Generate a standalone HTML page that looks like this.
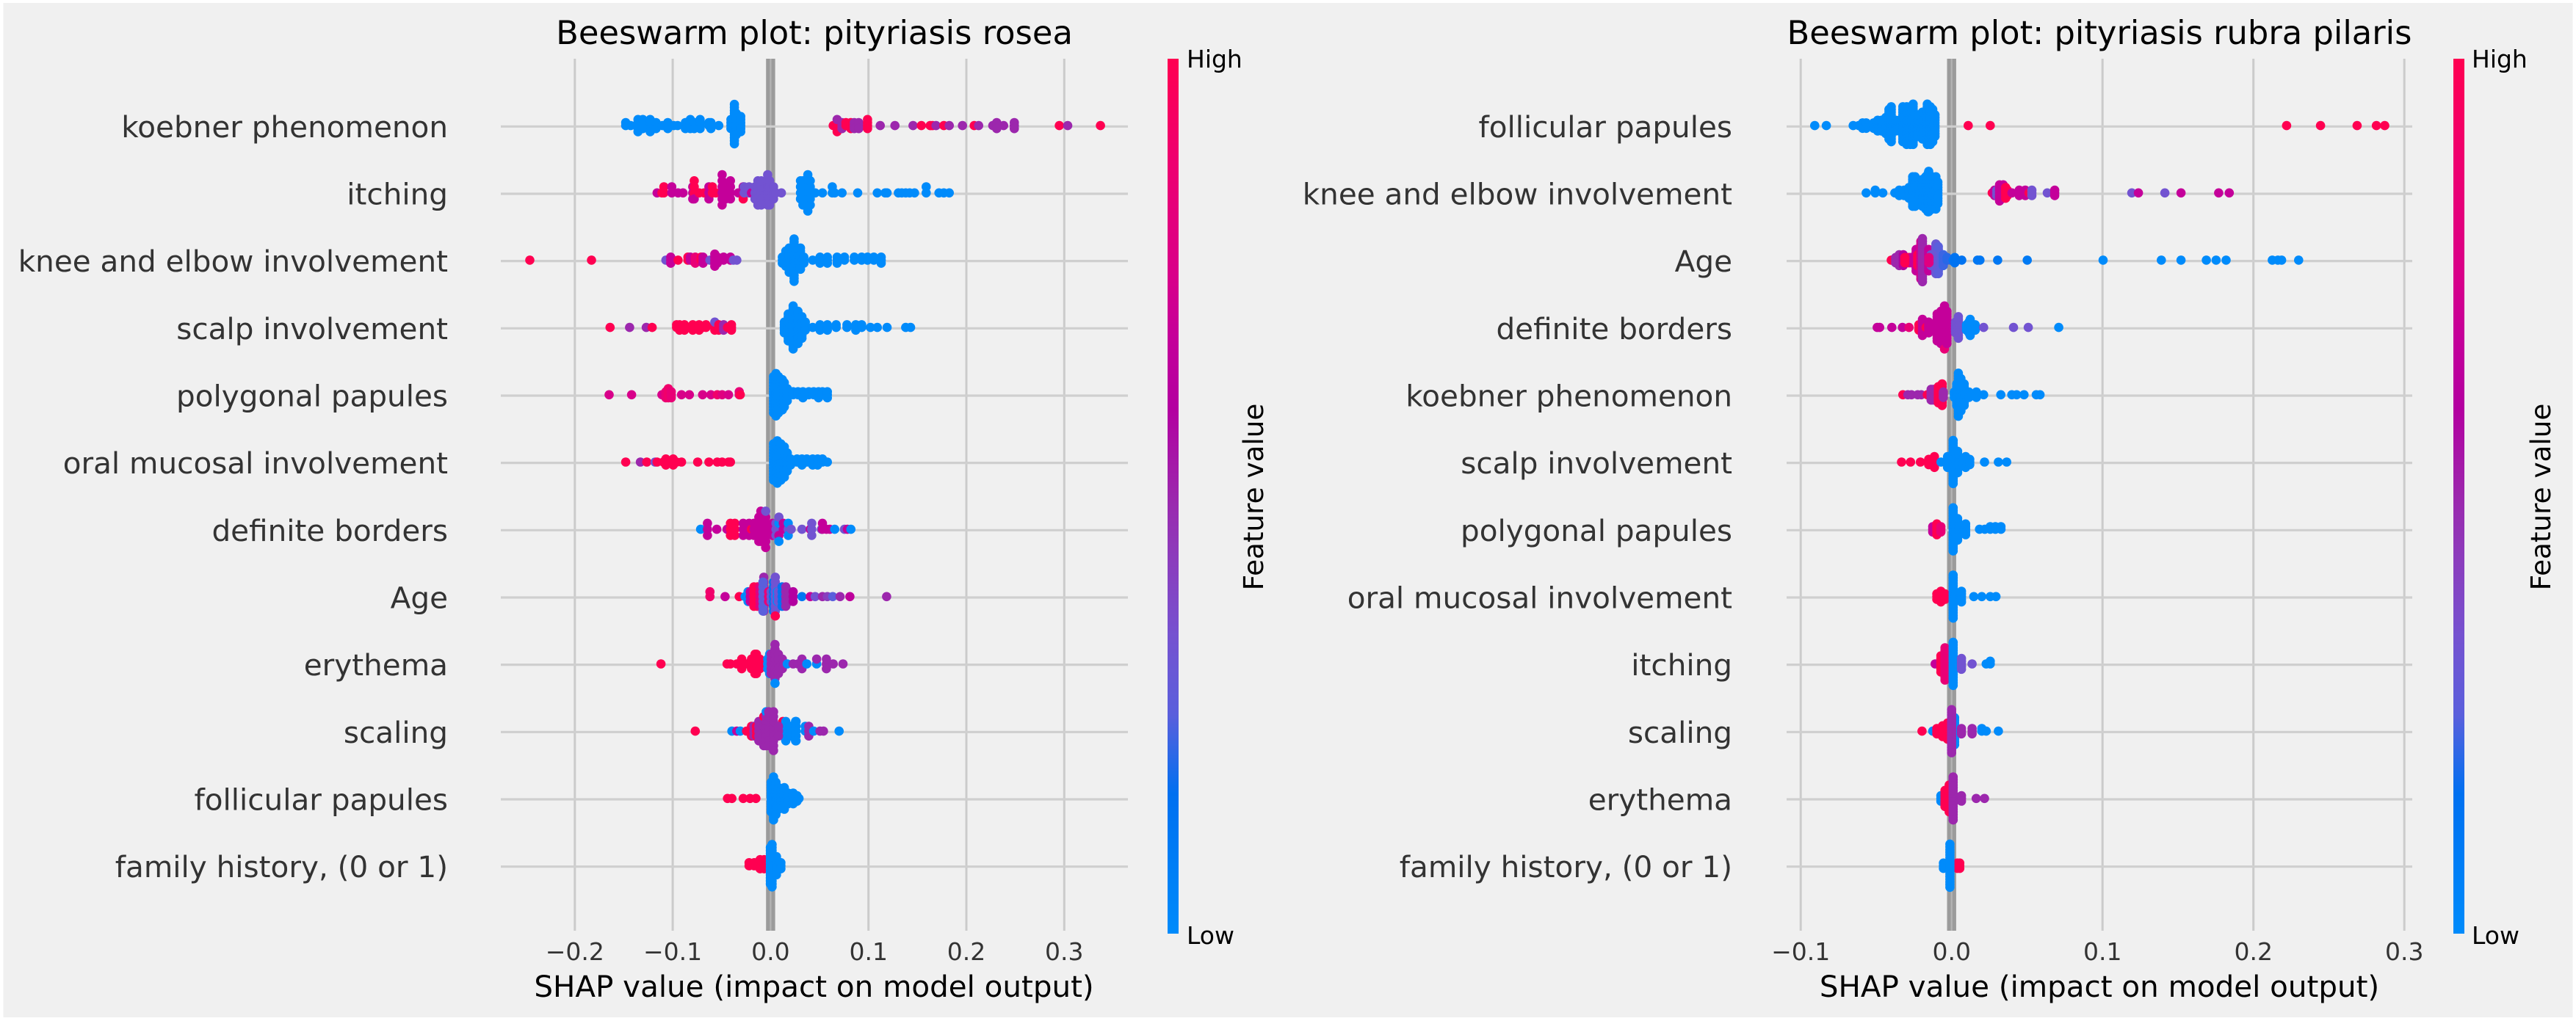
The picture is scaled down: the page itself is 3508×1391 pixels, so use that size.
<!DOCTYPE html>
<html lang="en">
<head>
<meta charset="utf-8">
<title>Beeswarm plots</title>
<style>
html,body{margin:0;padding:0;background:#fff;width:3508px;height:1391px;overflow:hidden}
svg{display:block}
text{font-family:"DejaVu Sans","Liberation Sans",sans-serif}
</style>
</head>
<body>
<svg id="chart" xmlns="http://www.w3.org/2000/svg" width="3508" height="1391" viewBox="0 0 3508 1391">
  <defs>
    <linearGradient id="cbar" x1="0" y1="1" x2="0" y2="0">
      <stop offset="0" stop-color="#008bfb"/>
      <stop offset="0.16" stop-color="#0070f0"/>
      <stop offset="0.25" stop-color="#5a5fdc"/>
      <stop offset="0.34" stop-color="#7552d0"/>
      <stop offset="0.43" stop-color="#8c3cbc"/>
      <stop offset="0.5" stop-color="#9c27ad"/>
      <stop offset="0.6" stop-color="#b300a0"/>
      <stop offset="0.68" stop-color="#c4009a"/>
      <stop offset="0.75" stop-color="#d8008a"/>
      <stop offset="0.88" stop-color="#ee0070"/>
      <stop offset="1" stop-color="#ff0051"/>
    </linearGradient>
  </defs>
  <rect x="4.5" y="4" width="3499" height="1382" fill="#f0f0f0"/>
  <g id="panel-left"></g>
  <g id="panel-right"></g>

  <text x="1109" y="60" font-size="44.8" text-anchor="middle" fill="#000">Beeswarm plot: pityriasis rosea</text>
  <text x="2859" y="60" font-size="44.8" text-anchor="middle" fill="#000">Beeswarm plot: pityriasis rubra pilaris</text>
  <text x="1108.5" y="1358" font-size="40.4" text-anchor="middle" fill="#000">SHAP value (impact on model output)</text>
  <text x="2859" y="1358" font-size="40.4" text-anchor="middle" fill="#000">SHAP value (impact on model output)</text>

  <rect x="1590" y="80" width="15" height="1192" fill="url(#cbar)"/>
  <text x="1616" y="92" font-size="33" fill="#000">High</text>
  <text x="1616" y="1286" font-size="33" fill="#000">Low</text>
  <text transform="translate(1720 677) rotate(-90)" font-size="37.3" text-anchor="middle" fill="#000">Feature value</text>

  <rect x="3341" y="80" width="15" height="1192" fill="url(#cbar)"/>
  <text x="3366" y="92" font-size="33" fill="#000">High</text>
  <text x="3366" y="1286" font-size="33" fill="#000">Low</text>
  <text transform="translate(3473 677) rotate(-90)" font-size="37.3" text-anchor="middle" fill="#000">Feature value</text>
</svg>
<script>
/* ---------- categories and ticks ---------- */
const roseaCategories = ["koebner phenomenon","itching","knee and elbow involvement","scalp involvement","polygonal papules","oral mucosal involvement","definite borders","Age","erythema","scaling","follicular papules","family history, (0 or 1)"];
const rubraCategories = ["follicular papules","knee and elbow involvement","Age","definite borders","koebner phenomenon","scalp involvement","polygonal papules","oral mucosal involvement","itching","scaling","erythema","family history, (0 or 1)"];
const roseaTicks = [-0.2,-0.1,0,0.1,0.2,0.3];
const roseaTickLabels = ["\u22120.2","\u22120.1","0.0","0.1","0.2","0.3"];
const rubraTicks = [-0.1,0,0.1,0.2,0.3];
const rubraTickLabels = ["\u22120.1","0.0","0.1","0.2","0.3"];

/* ---------- rosea: SHAP value, points at that value, feature-value tone ---------- */
const roseaKoebnerShap = [-.148,-.143,-.1355,-.1305,-.123,-.117,-.1105,-.105,-.099,-.095,-.087,-.082,-.078,-.072,-.063,-.061,-.053,-.0405,-.037,-.035,-.0305,.064,.068,.068,.068,.073,.077,.082,.0855,.09,.099,.112,.127,.1455,.154,.163,.1655,.169,.177,.1825,.196,.208,.2125,.227,.231,.238,.249,.295,.3035,.337];
const roseaKoebnerCount = [2,1,5,4,5,3,1,3,1,1,3,4,3,4,2,3,1,4,14,8,6,1,3,1,1,3,2,3,3,3,4,1,1,1,1,1,1,1,1,1,1,1,1,1,3,1,3,1,1,1];
const roseaKoebnerTone = [0,0,0,0,0,0,0,0,0,0,0,0,0,0,0,0,0,0,0,0,0,1,1,.5,1,.5,1,1,.5,.5,1,.5,.5,.5,1,1,1,.5,1,.5,.5,1,.5,.5,.5,.5,.5,1,.5,1];

const roseaItchingShap = [-.116,-.111,-.109,-.101,-.0945,-.0895,-.0795,-.078,-.078,-.078,-.073,-.068,-.063,-.0595,-.056,-.046,-.0495,-.041,-.033,-.028,-.028,-.027,-.022,-.0195,-.016,-.013,-.0095,-.003,-.001,.003,.0055,.011,.0305,.033,.038,.0405,.0455,.053,.063,.0655,.073,.089,.109,.117,.119,.1305,.134,.138,.142,.147,.159,.172,.177,.1825];
const roseaItchingCount = [1,1,2,2,1,1,3,2,1,1,1,1,3,2,1,3,6,4,1,2,1,2,2,1,3,5,5,6,5,3,1,1,4,5,7,5,1,1,2,1,1,1,1,1,1,1,1,1,1,1,2,1,1,1];
const roseaItchingTone = [.68,1,1,.68,.68,.68,.68,1,.68,1,1,1,.68,1,1,.68,.68,.68,.68,.68,1,.33,.33,.68,.33,.33,.33,.33,.33,.33,.33,.33,0,0,0,0,0,0,0,0,0,0,0,0,0,0,0,0,0,0,0,0,0,0];

const roseaKneeShap = [-.246,-.183,-.107,-.1025,-.102,-.0945,-.0845,-.082,-.077,-.071,-.069,-.062,-.057,-.0545,-.048,-.041,-.038,-.0345,.012,.0155,.019,.024,.0305,.034,.043,.0505,.058,.068,.0755,.0855,.093,.099,.1055,.113];
const roseaKneeCount = [1,1,1,1,3,1,2,2,3,2,3,1,5,3,2,2,1,1,3,6,9,15,8,3,1,3,3,3,2,2,2,2,2,3];
const roseaKneeTone = [1,1,.33,.33,.68,1,1,.68,.85,1,.68,.33,.68,.68,.68,.68,.33,.33,0,0,0,0,0,0,0,0,0,0,0,0,0,0,0,0];

const roseaScalpShap = [-.164,-.144,-.127,-.121,-.096,-.093,-.088,-.0795,-.073,-.0695,-.066,-.057,-.057,-.053,-.048,-.044,-.04,.014,.018,.023,.028,.032,.0355,.043,.0505,.058,.067,.078,.087,.093,.102,.109,.119,.138,.143];
const roseaScalpCount = [1,1,1,1,2,3,3,3,3,1,2,3,1,3,3,1,3,5,11,17,13,9,4,1,3,3,2,2,3,2,1,1,1,1,1];
const roseaScalpTone = [1,.5,.5,1,1,1,1,1,1,1,1,1,.33,1,.5,1,1,0,0,0,0,0,0,0,0,0,0,0,0,0,0,0,0,0,0];

const roseaPolygonalShap = [-.165,-.142,-.111,-.107,-.1045,-.1015,-.091,-.083,-.0695,-.061,-.0545,-.0495,-.043,-.032,-.031,.003,.0055,.008,.012,.014,.017,.023,.028,.033,.039,.044,.049,.053,.058];
const roseaPolygonalCount = [1,1,1,3,4,3,1,1,1,1,1,1,1,2,1,13,15,13,11,9,5,2,2,3,2,2,3,2,3];
const roseaPolygonalTone = [.75,.75,.75,.85,.9,.85,.75,.75,.75,.75,.9,.8,.75,.85,1,0,0,0,0,0,0,0,0,0,0,0,0,0,0];

const roseaOralShap = [-.148,-.133,-.1265,-.118,-.116,-.1095,-.107,-.0995,-.096,-.091,-.0745,-.063,-.0545,-.0495,-.043,-.041,.003,.0068,.0105,.014,.017,.0205,.027,.032,.037,.043,.048,.053,.058];
const roseaOralCount = [1,1,1,1,1,1,3,3,1,1,1,1,1,1,1,1,13,15,13,11,7,3,2,3,2,3,3,2,1];
const roseaOralTone = [1,.5,1,.33,1,1,1,1,1,1,1,1,1,1,1,1,0,0,0,0,0,0,0,0,0,0,0,0,0];

const roseaBordersShap = [-.0715,-.0645,-.055,-.0445,-.041,-.0365,-.028,-.022,-.0195,-.017,-.012,-.01,-.005,-.005,-.005,.002,.0055,.0085,.0085,.0085,.0085,.0085,.013,.018,.018,.021,.032,.0405,.042,.052,.053,.057,.0605,.0655,.0755,.0785,.082];
const roseaBordersCount = [1,3,1,1,3,3,3,3,1,3,5,6,5,1,1,3,3,1,1,1,1,1,2,1,2,1,1,1,3,1,2,1,1,1,1,1,1];
const roseaBordersTone = [0,.68,.68,.68,1,1,.68,.68,1,.68,.68,.68,.68,.33,.68,.68,.33,.33,0,.68,.33,0,.68,.33,0,.33,.33,.68,.33,.33,.68,.68,.68,0,.33,.68,0];

const roseaAgeShap = [-.062,-.0465,-.032,-.026,-.023,-.0208,-.017,-.0133,-.0108,-.007,-.0078,-.002,.0005,.003,.0048,.0048,.0068,.008,.0118,.0155,.019,.023,.032,.0405,.0455,.053,.058,.0635,.071,.081,.1185];
const roseaAgeCount = [2,1,1,1,3,3,5,5,5,8,7,3,3,7,8,1,3,3,5,5,3,3,1,1,1,1,1,1,1,1,1];
const roseaAgeTone = [.9,.68,1,0,0,.68,1,1,.8,.5,.25,.85,.3,.15,.33,1,0,.33,.15,.5,.5,.6,.12,.68,.33,.5,.42,.25,.5,.65,.5];

const roseaErythemaShap = [-.112,-.0445,-.041,-.0345,-.0295,-.0245,-.0195,-.016,-.0145,-.011,-.003,-.001,.0005,.0045,.0045,.008,.012,.014,.017,.023,.028,.032,.0355,.037,.047,.047,.057,.064,.074];
const roseaErythemaCount = [1,1,1,1,3,1,3,5,5,3,3,5,5,8,1,5,3,1,1,1,1,3,1,1,1,1,3,1,1];
const roseaErythemaTone = [1,1,1,1,1,1,1,1,1,1,0,0,.5,.5,0,.5,.5,.5,0,.5,.5,.5,.5,0,0,.5,.5,.5,.5];

const roseaScalingShap = [-.077,-.0395,-.0345,-.031,-.0245,-.0195,-.017,-.0145,-.012,-.007,-.007,-.007,-.0045,-.0045,-.002,.003,.0125,.0125,.0155,.0205,.008,.0255,.026,.0355,.039,.044,.0505,.054,.07];
const roseaScalingCount = [1,1,1,1,1,3,3,3,5,5,1,1,7,1,8,9,3,1,5,3,3,5,5,2,3,1,1,1,1];
const roseaScalingTone = [1,0,.68,0,1,1,.5,1,.5,.5,1,.5,.5,0,.5,.5,.5,1,0,0,.5,0,0,0,.5,0,.5,.5,0];

const roseaFollicularShap = [-.044,-.0395,-.028,-.021,-.015,.0005,.003,.0055,.008,.0105,.014,.018,.023,.027,.029];
const roseaFollicularCount = [1,1,1,1,1,12,17,13,9,7,9,5,5,3,1];
const roseaFollicularTone = [1,1,1,1,1,0,0,0,0,0,0,0,0,0,0];

const roseaFamilyShap = [-.022,-.0167,-.0107,-.0065,-.0002,.0015,.006,.0105];
const roseaFamilyCount = [2,2,4,4,13,15,7,3];
const roseaFamilyTone = [1,1,1,1,0,0,0,0];

/* ---------- rubra pilaris ---------- */
const rubraFollicularShap = [-.0907,-.083,-.0652,-.0615,-.059,-.0566,-.0517,-.049,-.0464,-.0436,-.0415,-.04,-.0371,-.0347,-.0323,-.0298,-.0274,-.0255,-.0225,-.0193,-.0161,-.0141,-.0125,-.011,.011,.0256,.222,.2445,.2687,.2815,.287];
const rubraFollicularCount = [1,1,1,1,3,3,3,5,5,7,12,14,5,5,14,15,15,16,9,11,16,15,13,9,1,1,1,1,1,1,1];
const rubraFollicularTone = [0,0,0,0,0,0,0,0,0,0,0,0,0,0,0,0,0,0,0,0,0,0,0,0,1,1,1,1,1,1,1];

const rubraKneeShap = [-.0566,-.0506,-.0456,-.0376,-.0347,-.0315,-.0282,-.0258,-.0242,-.0217,-.0193,-.0172,-.0157,-.0152,-.0128,-.0104,-.0091,.0269,.0285,.03,.0318,.0342,.0358,.037,.04,.0448,.0488,.0513,.0532,.0634,.0675,.0683,.1194,.1238,.1413,.152,.177,.184];
const rubraKneeCount = [1,2,1,1,3,3,5,12,12,7,11,13,15,16,13,13,9,1,3,3,7,6,5,3,1,3,3,1,3,1,1,3,1,1,1,1,1,1];
const rubraKneeTone = [0,0,0,0,0,0,0,0,0,0,0,0,0,0,0,0,0,1,.68,.33,.68,.68,1,1,.68,.68,.68,1,.33,.33,.33,.68,.33,.68,.33,.68,.68,.68];

const rubraAgeShap = [-.04,-.0371,-.0347,-.032,-.0282,-.0266,-.0235,-.0225,-.0204,-.0193,-.0177,-.0152,-.0136,-.0104,-.0088,-.0128,-.031,-.015,-.0055,-.003,-.0006,.001,.0021,.0067,.0172,.0188,.0305,.0501,.1004,.139,.152,.1688,.1753,.1819,.2125,.2162,.2187,.23];
const rubraAgeCount = [1,3,5,5,3,3,9,5,15,17,5,9,5,12,11,5,3,3,5,2,1,1,3,1,1,1,1,1,1,1,1,1,1,1,1,1,1,1];
const rubraAgeTone = [1,.5,.5,.6,1,.68,.68,1,.72,.5,.5,.68,.3,.3,.25,.3,1,.8,.22,.2,.2,.12,.14,.14,.12,.12,.12,.1,0,0,0,0,0,0,0,0,0,0];

const rubraBordersShap = [-.0493,-.0477,-.0396,-.0326,-.0282,-.0217,-.0193,-.0169,-.0152,-.0136,-.0096,-.0071,-.0047,-.0047,-.0031,.0026,.0045,.0099,.0115,.0123,.0156,.0212,.041,.0508,.071];
const rubraBordersCount = [1,1,1,1,1,3,7,1,5,3,11,13,16,1,13,5,9,3,5,7,3,1,1,1,1];
const rubraBordersTone = [.68,.68,.68,.68,.85,1,.68,1,.68,.68,.68,.68,.68,.85,.68,.33,.33,0,0,0,0,.33,.33,.33,0];

const rubraKoebnerShap = [-.0323,-.029,-.0266,-.0225,-.0201,-.0161,-.0136,-.012,-.0088,-.0071,-.0063,-.0055,.0018,.0034,.0045,.0062,.0083,.0115,.0164,.0212,.0326,.0399,.0431,.048,.0561,.0586];
const rubraKoebnerCount = [1,1,1,1,1,1,5,5,7,5,9,3,3,9,17,13,9,3,3,1,1,1,1,1,1,1];
const rubraKoebnerTone = [1,.5,.5,.5,.5,1,.5,.5,1,1,1,.5,0,0,0,0,0,0,0,0,0,0,0,0,0,0];

const rubraScalpShap = [-.0332,-.0272,-.0207,-.0152,-.0114,-.007,-.0027,.0025,.001,.004,.0093,.012,.0218,.031,.0365];
const rubraScalpCount = [1,1,1,3,5,1,5,9,17,9,5,3,1,1,1];
const rubraScalpTone = [1,1,1,1,1,0,0,.68,0,0,0,0,0,0,0];

const rubraPolygonalShap = [-.0125,-.0098,-.0071,.001,.004,.0093,.0185,.022,.0256,.029,.0327];
const rubraPolygonalCount = [3,5,3,17,9,5,1,1,2,2,2];
const rubraPolygonalTone = [.68,1,.85,0,0,0,0,0,0,0,0];

const rubraOralShap = [-.0098,-.0071,-.0044,.001,.0065,.0147,.02,.0256,.0294];
const rubraOralCount = [3,5,3,17,5,1,1,1,1];
const rubraOralTone = [1,1,1,0,0,0,0,0,0];

const rubraItchingShap = [-.0109,-.0071,-.0044,.001,.0065,.0136,.0229,.0256];
const rubraItchingCount = [1,7,13,17,5,1,1,2];
const rubraItchingTone = [.68,1,.85,0,.33,.33,0,0];

const rubraScalingShap = [-.0196,-.0125,-.0098,-.006,-.0027,.002,0,.0065,.0136,.02,.0229,.031];
const rubraScalingCount = [1,1,3,5,7,11,17,3,3,2,1,1];
const rubraScalingTone = [1,0,1,1,1,0,.5,.5,.5,0,0,0];

const rubraErythemaShap = [-.0071,-.0044,-.0016,.001,.0065,.0163,.0218];
const rubraErythemaCount = [3,7,11,17,3,1,1];
const rubraErythemaTone = [0,1,1,.5,.5,.5,.5];

const rubraFamilyShap = [-.0054,.0054,.0038,-.0011];
const rubraFamilyCount = [3,3,3,17];
const rubraFamilyTone = [0,1,1,0];

const roseaShap = [roseaKoebnerShap,roseaItchingShap,roseaKneeShap,roseaScalpShap,roseaPolygonalShap,roseaOralShap,roseaBordersShap,roseaAgeShap,roseaErythemaShap,roseaScalingShap,roseaFollicularShap,roseaFamilyShap];
const roseaCount = [roseaKoebnerCount,roseaItchingCount,roseaKneeCount,roseaScalpCount,roseaPolygonalCount,roseaOralCount,roseaBordersCount,roseaAgeCount,roseaErythemaCount,roseaScalingCount,roseaFollicularCount,roseaFamilyCount];
const roseaTone = [roseaKoebnerTone,roseaItchingTone,roseaKneeTone,roseaScalpTone,roseaPolygonalTone,roseaOralTone,roseaBordersTone,roseaAgeTone,roseaErythemaTone,roseaScalingTone,roseaFollicularTone,roseaFamilyTone];
const rubraShap = [rubraFollicularShap,rubraKneeShap,rubraAgeShap,rubraBordersShap,rubraKoebnerShap,rubraScalpShap,rubraPolygonalShap,rubraOralShap,rubraItchingShap,rubraScalingShap,rubraErythemaShap,rubraFamilyShap];
const rubraCount = [rubraFollicularCount,rubraKneeCount,rubraAgeCount,rubraBordersCount,rubraKoebnerCount,rubraScalpCount,rubraPolygonalCount,rubraOralCount,rubraItchingCount,rubraScalingCount,rubraErythemaCount,rubraFamilyCount];
const rubraTone = [rubraFollicularTone,rubraKneeTone,rubraAgeTone,rubraBordersTone,rubraKoebnerTone,rubraScalpTone,rubraPolygonalTone,rubraOralTone,rubraItchingTone,rubraScalingTone,rubraErythemaTone,rubraFamilyTone];

/* ---------- drawing ---------- */
const NS = "http://www.w3.org/2000/svg";
const colormapStops = [[0,[0,139,251]],[.16,[0,112,240]],[.25,[90,95,220]],[.34,[117,82,208]],[.43,[140,60,188]],[.5,[156,39,173]],[.6,[179,0,160]],[.68,[196,0,154]],[.75,[216,0,138]],[.88,[238,0,112]],[1,[255,0,81]]];
function toneColor(t){
  for(let i=1;i<colormapStops.length;i++){
    const a=colormapStops[i-1],b=colormapStops[i];
    if(t<=b[0]){
      const f=(t-a[0])/(b[0]-a[0]);
      const c=a[1].map((v,k)=>Math.round(v+(b[1][k]-v)*f));
      return "rgb("+c.join(",")+")";
    }
  }
  return "rgb(255,0,81)";
}
function rowY(i){return 172.3+91.67*i;}
function shape(tag,parent){const el=document.createElementNS(NS,tag);parent.appendChild(el);return el;}

function drawPanel(group,prefix,zero,unit,lineLeft,lineRight,labelRight,categories,ticks,tickLabels,shap,count,tone){
  const xPos=v=>zero+unit*v;
  const top=80,bottom=1268;

  const zeroBar=shape("rect",group);
  
  
  zeroBar.setAttribute("x",xPos(0)-6.2);zeroBar.setAttribute("y",top);
  zeroBar.setAttribute("width",12.4);zeroBar.setAttribute("height",bottom-top);
  zeroBar.setAttribute("fill","#9b9b9b");

  ticks.forEach((t,i)=>{
    const g=shape("line",group);
    
    
    g.setAttribute("x1",xPos(t));g.setAttribute("x2",xPos(t));
    g.setAttribute("y1",top);g.setAttribute("y2",bottom);
    g.setAttribute("stroke",t===0?"#b4b4b4":"#cbcbcb");
    g.setAttribute("stroke-width",t===0?2.2:3);
    const l=shape("text",group);
    
    
    l.setAttribute("x",xPos(t));l.setAttribute("y",1308);
    l.setAttribute("font-size",33);l.setAttribute("text-anchor","middle");
    l.setAttribute("fill","#333333");
    l.textContent=tickLabels[i];
  });

  categories.forEach((name,i)=>{
    const h=shape("line",group);
    
    
    h.setAttribute("x1",lineLeft);h.setAttribute("x2",lineRight);
    h.setAttribute("y1",rowY(i));h.setAttribute("y2",rowY(i));
    h.setAttribute("stroke","#cfcfcf");h.setAttribute("stroke-width",3.2);
    const l=shape("text",group);
    
    
    l.setAttribute("x",labelRight);l.setAttribute("y",rowY(i)+14.5);
    l.setAttribute("font-size",40.5);l.setAttribute("text-anchor","end");
    l.setAttribute("fill","#333333");
    l.textContent=name;
  });

  categories.forEach((name,i)=>{
    const layers={};
    const marks=[];
    let maxOff=0;
    shap[i].forEach((v,j)=>{
      const n=count[i][j]||1;
      for(let k=0;k<n;k++){
        const layer=layers[v]||0;
        layers[v]=layer+1;
        const off=Math.ceil(layer/2)*((layer%2)*2-1);
        maxOff=Math.max(maxOff,Math.abs(off));
        marks.push([v,off,tone[i][j]]);
      }
    });
    const step=91.67*0.36/(maxOff+1);
    marks.forEach(m=>{
      const c=shape("circle",group);
      
      
      c.setAttribute("cx",xPos(m[0]).toFixed(1));
      c.setAttribute("cy",(rowY(i)-1.2-m[1]*step).toFixed(1));
      c.setAttribute("r",6.3);
      c.setAttribute("fill",toneColor(m[2]));
    });
  });
}

drawPanel(document.getElementById("panel-left"),"rosea",1049.4,1333,682,1536,610,roseaCategories,roseaTicks,roseaTickLabels,roseaShap,roseaCount,roseaTone);
drawPanel(document.getElementById("panel-right"),"rubra",2657.7,2055,2433,3285,2359,rubraCategories,rubraTicks,rubraTickLabels,rubraShap,rubraCount,rubraTone);
</script>
</body>
</html>
